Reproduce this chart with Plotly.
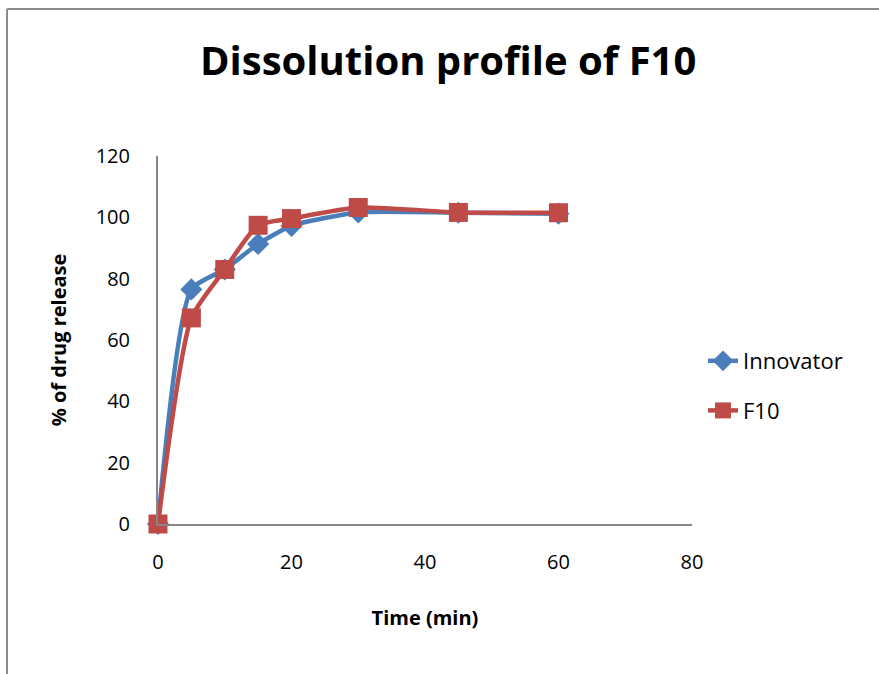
import plotly.graph_objects as go

time_min = [0, 5, 10, 15, 20, 30, 45, 60]
innovator = [0, 76.5, 83.0, 91.3, 97.2, 101.6, 101.5, 101.2]
f10 = [0, 67.2, 83.0, 97.4, 99.6, 103.2, 101.6, 101.5]
x_ticks = [0, 20, 40, 60, 80]
y_ticks = [0, 20, 40, 60, 80, 100, 120]

FONT = "'Open Sans', sans-serif"
BLUE = "#4A7EBB"
RED = "#BE4B48"

fig = go.Figure()
fig.add_trace(go.Scatter(
    x=time_min, y=innovator, name="Innovator", mode="lines+markers", legendgroup="a",
    line=dict(color=BLUE, width=4.5, shape="spline", smoothing=0.6),
    marker=dict(symbol="diamond", size=17, color=BLUE), cliponaxis=False,
))
fig.add_trace(go.Scatter(
    x=time_min, y=f10, name="F10", mode="lines+markers", legendgroup="b",
    line=dict(color=RED, width=4.5, shape="spline", smoothing=0.6),
    marker=dict(symbol="square", size=19, color=RED), cliponaxis=False,
))

L, R, T, B = 158, 187, 156, 150
W, H = 879, 674
pw, ph = W - L - R, H - T - B

def px_x(p):
    return (p - L) / pw

def px_y(p):
    return (H - B - p) / ph

fig.update_layout(
    width=W, height=H,
    margin=dict(l=L, r=R, t=T, b=B),
    paper_bgcolor="white", plot_bgcolor="white",
    font=dict(family=FONT, color="black", size=20),
    showlegend=True,
    legend=dict(x=px_x(703), y=px_y(340), xanchor="left", yanchor="top",
                font=dict(size=22, family=FONT), tracegroupgap=18,
                bgcolor="rgba(0,0,0,0)"),
    xaxis=dict(range=[0, 80], tickvals=x_ticks, showgrid=False, zeroline=False,
               showline=True, linecolor="#868686", linewidth=2, ticks="",
               tickfont=dict(size=20), ticklabelstandoff=19,
               title=dict(text="<b>Time (min)</b>", font=dict(size=20), standoff=37)),
    yaxis=dict(range=[0, 120], tickvals=y_ticks, showgrid=False, zeroline=False,
               showline=True, linecolor="#868686", linewidth=2, ticks="",
               tickfont=dict(size=20), ticklabelstandoff=22,
               title=dict(text="<b>% of drug release</b>", font=dict(size=20), standoff=24)),
    annotations=[dict(text="<b>Dissolution profile of F10</b>", xref="paper", yref="paper",
                      x=px_x(448), y=px_y(60), xanchor="center", yanchor="middle",
                      showarrow=False, font=dict(size=40, family=FONT))],
    shapes=[
        dict(type="line", xref="paper", yref="paper", x0=px_x(7), x1=px_x(W + 5),
             y0=px_y(9), y1=px_y(9), line=dict(color="#8C8C8C", width=2)),
        dict(type="line", xref="paper", yref="paper", x0=px_x(7), x1=px_x(7),
             y0=px_y(9), y1=px_y(H + 5), line=dict(color="#8C8C8C", width=2)),
    ],
)

fig.write_html("out.html")
